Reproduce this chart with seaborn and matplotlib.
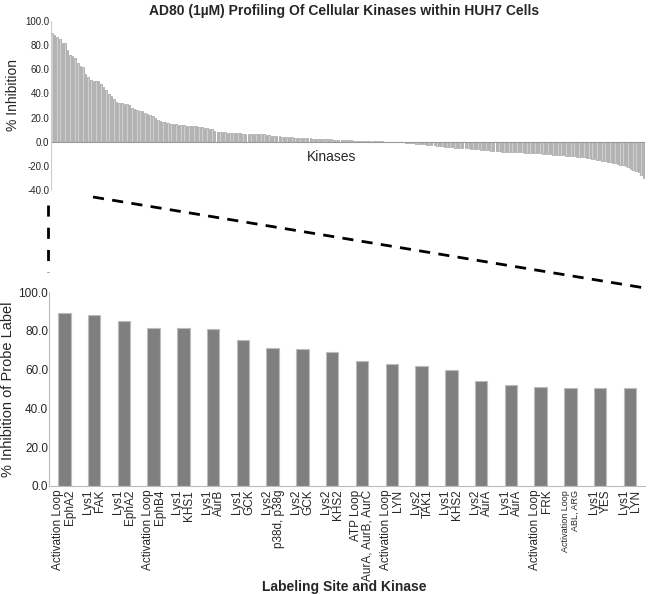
import numpy as np
import pandas as pd
import matplotlib
matplotlib.use("Agg")
import matplotlib.pyplot as plt
import seaborn as sns
from matplotlib.lines import Line2D

# all kinases, sorted by % inhibition
all_inhibition = [
    90, 88.5, 87, 85, 82, 81.5, 76, 72, 71, 69.5, 65,
    63, 62, 56, 53.5, 51, 50.5, 50.5, 50, 47.5, 45.5,
    43, 39.5, 38, 35, 33, 32, 31.8, 31.5, 31, 30,
    28, 27, 26, 25.5, 25, 24, 23, 22, 21, 20,
    18, 17, 16.5, 16, 15.5, 15, 14.5, 14.3, 14, 13.8,
    13.5, 13.4, 13.2, 13, 12.8, 12.6, 12.4, 12, 11.6, 11.3,
    10.8, 10.2, 9, 8.4, 8.2, 8, 7.8, 7.6, 7.4, 7.2,
    7, 6.9, 6.8, 6.7, 6.6, 6.5, 6.4, 6.3, 6.2, 6.1,
    6, 6, 5.8, 5.5, 5, 4.8, 4.6, 4.5, 4.3, 4.1,
    4, 3.8, 3.6, 3.4, 3.3, 3.2, 3, 2.9, 2.8, 2.7,
    2.6, 2.5, 2.4, 2.3, 2.2, 2.1, 2.0, 1.9, 1.8, 1.7,
    1.6, 1.5, 1.4, 1.3, 1.2, 1.1, 1.0, 0.9, 0.8, 0.7,
    0.6, 0.5, 0.45, 0.4, 0.35, 0.3, 0.25, 0.2, 0.1, 0.05,
    -0.1, -0.2, -0.3, -0.4, -0.5, -0.6, -0.8, -1.0, -1.2, -1.4,
    -1.6, -1.8, -2.0, -2.2, -2.4, -2.6, -2.8, -3.0, -3.2, -3.5,
    -3.8, -4.0, -4.2, -4.4, -4.6, -4.8, -5.0, -5.2, -5.3, -5.4,
    -5.6, -5.8, -6.0, -6.2, -6.4, -6.6, -6.8, -7.0, -7.2, -7.4,
    -7.6, -7.8, -8.0, -8.1, -8.2, -8.3, -8.4, -8.5, -8.6, -8.7,
    -8.8, -8.9, -9.0, -9.1, -9.2, -9.3, -9.4, -9.5, -9.6, -9.8,
    -10.0, -10.2, -10.4, -10.6, -10.8, -11.0, -11.2, -11.4, -11.6, -11.8,
    -12.0, -12.2, -12.4, -12.6, -12.8, -13.0, -13.3, -13.6, -14.0, -14.4,
    -14.8, -15.2, -15.6, -16.0, -16.5, -17.0, -17.5, -18.0, -18.5, -19.0,
    -19.5, -20.0, -20.5, -22.5, -23.5, -24.0, -25.0, -27.5, -30.0,
]

# top 20 labeling sites
site_labels = [
    "Activation Loop\nEphA2", "Lys1\nFAK", "Lys1\nEphA2", "Activation Loop\nEphB4",
    "Lys1\nKHS1", "Lys1\nAurB", "Lys1\nGCK", "Lys2\np38d, p38g", "Lys2\nGCK",
    "Lys2\nKHS2", "ATP Loop\nAurA, AurB, AurC", "Activation Loop\nLYN", "Lys2\nTAK1",
    "Lys1\nKHS2", "Lys2\nAurA", "Lys1\nAurA", "Activation Loop\nFRK",
    "Activation Loop\nABL, ARG", "Lys1\nYES", "Lys1\nLYN",
]
site_inhibition = [89.2, 88.0, 85.2, 81.7, 81.3, 81.0, 75.5, 71.0, 70.9, 69.2,
                   64.7, 62.7, 62.1, 60.1, 54.3, 52.2, 51.3, 50.8, 50.6, 50.4]

sns.set_style("white")
plt.rcParams['font.family'] = ['Liberation Sans', 'DejaVu Sans']

fig = plt.figure(figsize=(6.5, 5.94), dpi=100)

# ---- top panel: all kinases
ax1 = fig.add_axes([0.078, 0.68, 0.914, 0.285])
df_all = pd.DataFrame({'idx': np.arange(len(all_inhibition)), 'val': all_inhibition})
sns.barplot(data=df_all, x='idx', y='val', color='#cfcfcf', edgecolor='#8c8c8c',
            linewidth=0.4, width=0.6, saturation=1, ax=ax1)
ax1.set_ylim(-40, 100)
ax1.set_xlim(-0.5, len(all_inhibition) - 0.5)
ax1.set_yticks(np.arange(-40, 101, 20))
ax1.set_yticklabels([f"{v:.1f}" for v in np.arange(-40, 101, 20)], fontsize=7)
ax1.set_xticks([])
ax1.set_xlabel('')
ax1.set_ylabel('% Inhibition', fontsize=10)
ax1.yaxis.set_label_coords(-0.052, 0.56)
for s in ['top', 'right', 'bottom']:
    ax1.spines[s].set_visible(False)
ax1.spines['left'].set_color('#cccccc')
ax1.axhline(0, color='#999999', lw=0.8)
ax1.tick_params(axis='y', length=0, pad=1)
ax1.text(len(all_inhibition) * 0.47, -13, 'Kinases', ha='center', va='center',
         fontsize=10)
fig.text(0.53, 0.982, 'AD80 (1\u00b5M) Profiling Of Cellular Kinases within HUH7 Cells',
         ha='center', va='center', fontsize=10, fontweight='bold')

# ---- bottom panel: top labeling sites
ax2 = fig.add_axes([0.076, 0.182, 0.916, 0.326])
df_top = pd.DataFrame({'site': site_labels, 'val': site_inhibition})
sns.barplot(data=df_top, x='site', y='val', color='#7f7f7f', edgecolor='#bdbdbd',
            linewidth=0.8, width=0.42, saturation=1, ax=ax2)
ax2.set_ylim(0, 100)
ax2.set_xlim(-0.5, len(site_labels) - 0.5)
ax2.set_yticks(np.arange(0, 101, 20))
ax2.set_yticklabels([f"{v:.1f}" for v in np.arange(0, 101, 20)], fontsize=8.5)
ax2.set_xticks([])
ax2.set_xticks(np.arange(-0.5, len(site_labels), 1), minor=True)
ax2.tick_params(axis='x', which='minor', length=3, color='#bbbbbb', direction='out')
ax2.tick_params(axis='y', length=0, pad=1)
ax2.set_xlabel('')
ax2.set_ylabel('% Inhibition of Probe Label', fontsize=10.5)
ax2.yaxis.set_label_coords(-0.057, 0.5)
for s in ['top', 'right']:
    ax2.spines[s].set_visible(False)
ax2.spines['left'].set_color('#bbbbbb')
ax2.spines['bottom'].set_color('#bbbbbb')
for i, lab in enumerate(site_labels):
    fs = 6.5 if 'ABL' in lab else 8.5
    ax2.text(i, -2.0, lab, rotation=90, ha='center', va='top', multialignment='right',
             fontsize=fs, linespacing=1.0)
fig.text(0.53, 0.011, 'Labeling Site and Kinase', ha='center', va='center',
         fontsize=10, fontweight='bold')

# zoom-in dashed lines linking the panels
fig.add_artist(Line2D([48 / 650, 48 / 650], [1 - 205 / 594, 1 - 272 / 594],
                      color='black', lw=2, ls=(0, (4, 4))))
fig.add_artist(Line2D([93 / 650, 645 / 650], [1 - 197 / 594, 1 - 288 / 594],
                      color='black', lw=2, ls=(0, (4, 3))))

fig.savefig('out.png', dpi=100)
